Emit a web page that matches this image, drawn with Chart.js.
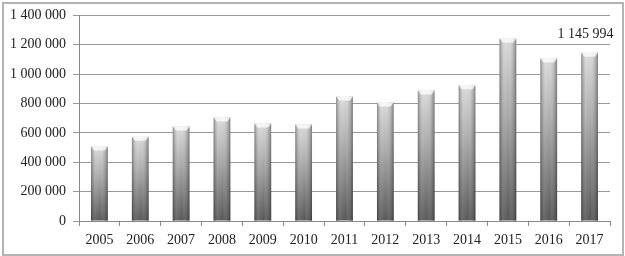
<!DOCTYPE html>
<html>
<head>
<meta charset="utf-8">
<script src="https://cdn.jsdelivr.net/npm/chart.js@4"></script>
<style>
  html, body { margin: 0; padding: 0; background: #fff; }
  #wrap { position: relative; width: 625px; height: 256px; }
  #frame { position: absolute; left: 2px; top: 2px; width: 618px; height: 250px; border: 2px solid #b4b4b4; pointer-events: none; }
</style>
</head>
<body>
<div id="wrap">
  <canvas id="bars" width="625" height="256"></canvas>
  <div id="frame"></div>
</div>
<script>
var years = ["2005", "2006", "2007", "2008", "2009", "2010", "2011", "2012", "2013", "2014", "2015", "2016", "2017"];
var values = [507000, 573000, 643000, 705000, 664000, 657000, 847000, 807000, 889000, 924000, 1242000, 1106000, 1145994];
var labelIndex = [12];  // only the last bar gets a value label

function spaced(v) {
    return String(Math.round(v)).replace(/\B(?=(\d{3})+(?!\d))/g, ' ');
}

var serif = "'Liberation Serif', 'DejaVu Serif', serif";

// vertical gradient per bar: light top, dark bottom
function barFill(ctx) {
    var chart = ctx.chart;
    var y = chart.scales.y;
    if (!chart.chartArea || !y || ctx.dataIndex === undefined) return '#999';
    var top = y.getPixelForValue(values[ctx.dataIndex]);
    var bottom = y.getPixelForValue(0);
    if (!isFinite(top) || !isFinite(bottom)) return '#999';
    var g = chart.ctx.createLinearGradient(0, top, 0, bottom);
    g.addColorStop(0, '#d8d8d8');
    g.addColorStop(0.4, '#a6a6a6');
    g.addColorStop(1, '#4e4e4e');
    return g;
}

// darker sides + bevelled cap, so the bars look round like the original
var shading = {
    id: 'shading',
    afterDatasetsDraw: function (chart) {
        var c = chart.ctx;
        chart.getDatasetMeta(0).data.forEach(function (bar) {
            var l = bar.x - bar.width / 2, r = bar.x + bar.width / 2;
            var h = chart.scales.y.getPixelForValue(0) - bar.y;
            var g = c.createLinearGradient(l, 0, r, 0);
            g.addColorStop(0, 'rgba(40,40,40,0.45)');
            g.addColorStop(0.3, 'rgba(255,255,255,0.12)');
            g.addColorStop(0.55, 'rgba(255,255,255,0.05)');
            g.addColorStop(1, 'rgba(40,40,40,0.5)');
            c.save();
            c.fillStyle = g;
            c.fillRect(l, bar.y, bar.width, h);
            // cap
            c.beginPath();
            c.moveTo(l, bar.y);
            c.lineTo(r, bar.y);
            c.lineTo(r - 3, bar.y + 4);
            c.lineTo(l + 3, bar.y + 4);
            c.closePath();
            c.fillStyle = 'rgba(255,255,255,0.75)';
            c.fill();
            c.restore();
        });
    },
    afterDraw: function (chart) {
        var c = chart.ctx;
        var meta = chart.getDatasetMeta(0);
        c.save();
        c.font = '14px ' + serif;
        c.fillStyle = '#222';
        c.textAlign = 'center';
        c.textBaseline = 'alphabetic';
        labelIndex.forEach(function (i) {
            var bar = meta.data[i];
            c.fillText(spaced(values[i]), bar.x - 4, bar.y - 15);
        });
        c.restore();
    }
};

var chart = new Chart(document.getElementById('bars'), {
    type: 'bar',
    data: {
        labels: years,
        datasets: [{
            data: values,
            backgroundColor: barFill,
            borderWidth: 0,
            barPercentage: 0.41,
            categoryPercentage: 1
        }]
    },
    options: {
        responsive: false,
        animation: false,
        layout: { padding: { top: 15, right: 15, left: 0, bottom: 0 } },
        plugins: {
            legend: { display: false },
            tooltip: { enabled: false }
        },
        scales: {
            x: {
                offset: true,
                grid: {
                    offset: true,
                    drawOnChartArea: false,
                    drawTicks: true,
                    tickLength: 5,
                    color: '#888'
                },
                border: { color: '#888', width: 1 },
                ticks: {
                    font: { family: serif, size: 14 },
                    color: '#222',
                    padding: 6,
                    maxRotation: 0
                },
                afterFit: function (s) { s.height = 35; }
            },
            y: {
                min: 0,
                max: 1400000,
                grid: {
                    color: '#999',
                    drawTicks: true,
                    tickLength: 6
                },
                border: { color: '#888', width: 1 },
                ticks: {
                    stepSize: 200000,
                    font: { family: serif, size: 14 },
                    color: '#222',
                    padding: 7,
                    callback: function (v) { return spaced(v); }
                },
                afterFit: function (s) { s.width = 79; }
            }
        }
    },
    plugins: [shading]
});
</script>
</body>
</html>
